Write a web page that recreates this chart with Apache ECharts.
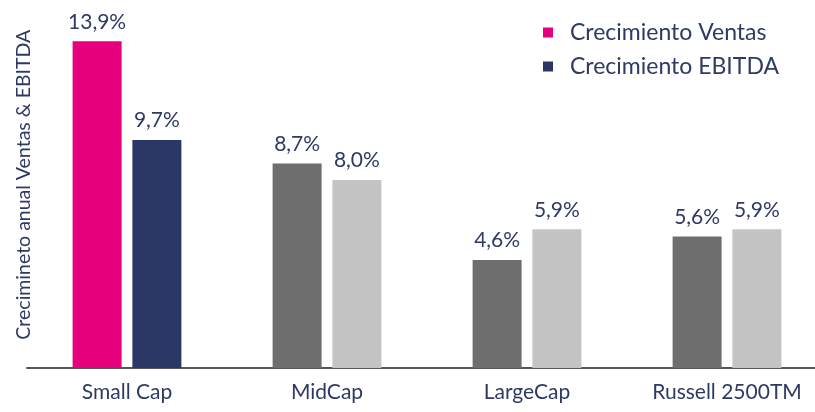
<!DOCTYPE html>
<html>
<head>
<meta charset="utf-8">
<script src="https://cdn.jsdelivr.net/npm/echarts@6/dist/echarts.min.js"></script>
<style>html,body{margin:0;padding:0;background:#fff;overflow:hidden;width:815px;height:412px}#c{width:830px;height:412px}</style>
</head>
<body>
<div id="c"></div>
<script>
const categories = ['Small Cap', 'MidCap', 'LargeCap', 'Russell 2500TM'];
const ventas = [13.9, 8.7, 4.6, 5.6];
const ebitda = [9.7, 8.0, 5.9, 5.9];
const seriesNames = ['Crecimiento Ventas', 'Crecimiento EBITDA'];
const yAxisTitle = 'Crecimineto anual Ventas & EBITDA';

const PINK = '#E6007E', NAVY = '#2B3866', DARK = '#6E6E6E', LIGHT = '#C4C4C4';
const TXT = '#2E3A64';
const FONT = 'Lato';

function items(vals, first, rest) {
  return vals.map((v, i) => ({ value: v, itemStyle: { color: i === 0 ? first : rest } }));
}
const label = {
  show: true, position: 'top', distance: 9, color: TXT, fontFamily: FONT, fontSize: 21,
  formatter: p => p.value.toFixed(1).replace('.', ',') + '%'
};

const chart = echarts.init(document.getElementById('c'));
chart.setOption({
  animation: false,
  textStyle: { fontFamily: FONT },
  grid: { left: 27, right: 3, top: 15.5, bottom: 44, containLabel: false },
  legend: {
    orient: 'vertical', left: 538, top: 16, itemWidth: 10, itemHeight: 10, itemGap: 11,
    icon: 'rect',
    textStyle: { color: TXT, fontFamily: FONT, fontSize: 23, padding: [0, 0, 0, 12] },
    data: seriesNames
  },
  xAxis: {
    type: 'category', data: categories,
    axisLine: { lineStyle: { color: '#555', width: 2 } },
    axisTick: { show: false },
    axisLabel: { color: TXT, fontFamily: FONT, fontSize: 21, margin: 14 }
  },
  yAxis: {
    type: 'value', min: 0, max: 15,
    name: yAxisTitle, nameLocation: 'middle', nameRotate: 90, nameGap: -7,
    nameTextStyle: { color: TXT, fontFamily: FONT, fontSize: 19.5, padding: [0, 0, 0, 14] },
    axisLine: { show: false }, axisTick: { show: false }, axisLabel: { show: false },
    splitLine: { show: false }
  },
  series: [
    { name: seriesNames[0], type: 'bar', barWidth: 49, barGap: '22%', itemStyle: { color: PINK },
      data: items(ventas, PINK, DARK), label: label },
    { name: seriesNames[1], type: 'bar', barWidth: 49, itemStyle: { color: NAVY },
      data: items(ebitda, NAVY, LIGHT), label: label }
  ]
});
</script>
</body>
</html>
